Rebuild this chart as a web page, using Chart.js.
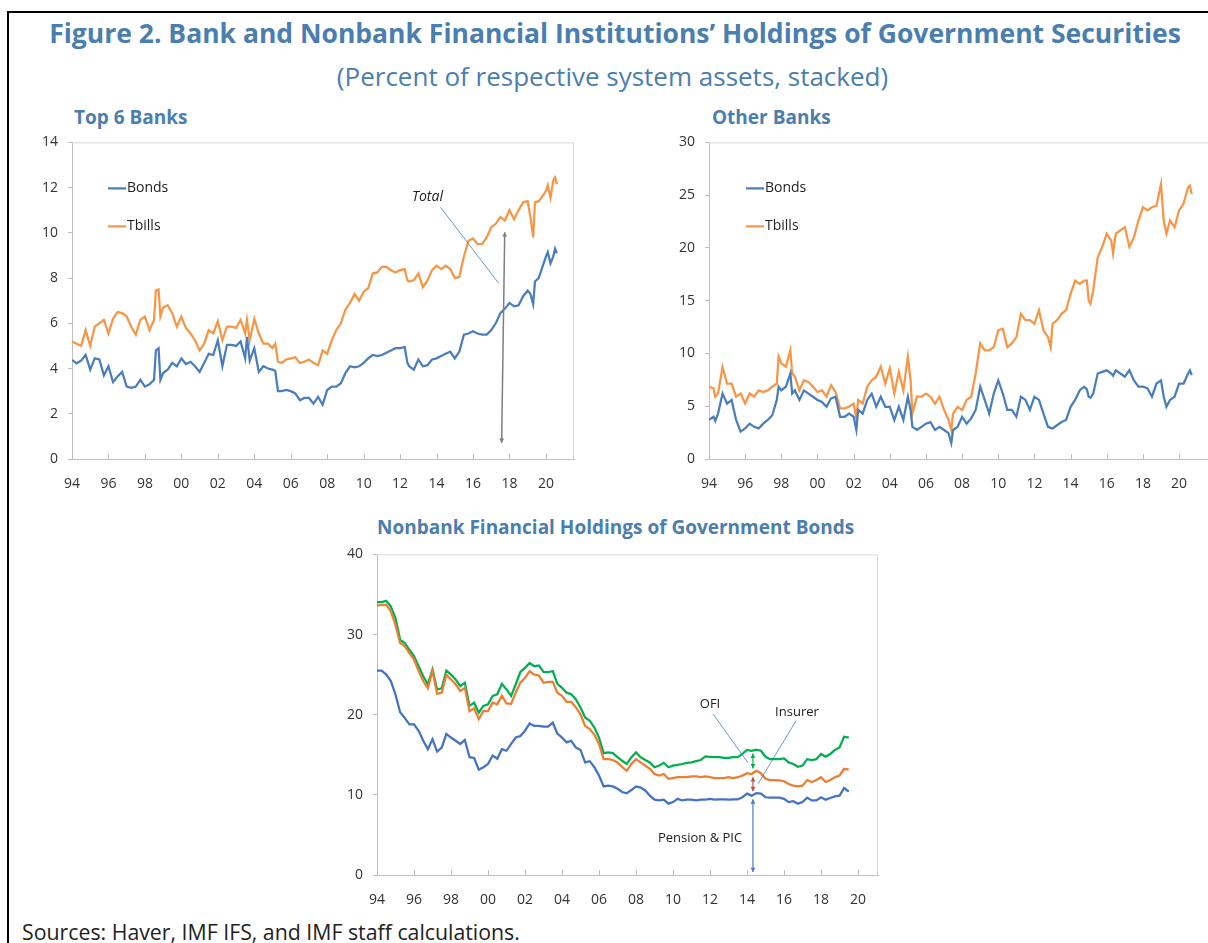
<!DOCTYPE html>
<html>
<head>
<meta charset="utf-8">
<script src="https://cdn.jsdelivr.net/npm/chart.js@4.4.1/dist/chart.umd.min.js"></script>
<style>
  body { margin: 0; width: 1208px; height: 943px; position: relative; overflow: hidden; background: #fff; font-family: 'Open Sans', sans-serif; }
  .frame { position: absolute; left: 7px; top: 11px; width: 1220px; height: 960px; border-left: 2px solid #000; border-top: 2px solid #000; }
  .title { position: absolute; left: 0; width: 1230px; top: 15px; text-align: center; color: #4A7EAF; font-weight: 700; font-size: 26.5px; white-space: nowrap; }
  .subtitle { position: absolute; left: 0; width: 1225px; top: 58px; text-align: center; color: #4A7EAF; font-size: 26px; white-space: nowrap; }
  .panel-title { position: absolute; color: #4A7EAF; font-weight: 700; font-size: 19px; white-space: nowrap; }
  .sources { position: absolute; left: 22px; top: 917px; font-size: 21.3px; color: #222; white-space: nowrap; }
  .box { position: absolute; }
</style>
</head>
<body>
<div class="frame"></div>
<div class="title">Figure 2. Bank and Nonbank Financial Institutions’ Holdings of Government Securities</div>
<div class="subtitle">(Percent of respective system assets, stacked)</div>
<div class="panel-title" style="left:74px;top:104px">Top 6 Banks</div>
<div class="panel-title" style="left:712px;top:104px">Other Banks</div>
<div class="panel-title" style="left:377px;top:514px">Nonbank Financial Holdings of Government Bonds</div>
<div class="box" style="left:20px;top:124px"><canvas id="top6" width="570" height="366"></canvas></div>
<div class="box" style="left:660px;top:124px"><canvas id="other" width="550" height="366"></canvas></div>
<div class="box" style="left:320px;top:536px"><canvas id="nonbank" width="570" height="374"></canvas></div>
<div class="sources">Sources: Haver, IMF IFS, and IMF staff calculations.</div>

<script>
// x-axis tick years (labelled as two digits)
const xTickYears = [1994, 1996, 1998, 2000, 2002, 2004, 2006, 2008, 2010, 2012, 2014, 2016, 2018, 2020];

// Top 6 banks: bonds, and bonds + tbills (stacked)
const top6Dates = [
  1994.0, 1994.25, 1994.5, 1994.75, 1995.0, 1995.25, 1995.5, 1995.75, 1996.0, 1996.25, 1996.5, 1996.75,
  1997.0, 1997.25, 1997.5, 1997.75, 1998.0, 1998.25, 1998.5, 1998.6, 1998.75, 1998.85, 1999.0, 1999.25,
  1999.5, 1999.75, 2000.0, 2000.25, 2000.5, 2000.75, 2001.0, 2001.25, 2001.5, 2001.75, 2002.0, 2002.25,
  2002.5, 2002.75, 2003.0, 2003.25, 2003.5, 2003.6, 2003.75, 2004.0, 2004.25, 2004.5, 2004.75, 2005.0,
  2005.15, 2005.3, 2005.5, 2005.75, 2006.0, 2006.25, 2006.5, 2006.75, 2007.0, 2007.25, 2007.5, 2007.75,
  2008.0, 2008.25, 2008.5, 2008.75, 2009.0, 2009.25, 2009.5, 2009.75, 2010.0, 2010.25, 2010.5, 2010.75,
  2011.0, 2011.25, 2011.5, 2011.75, 2012.0, 2012.25, 2012.4, 2012.5, 2012.75, 2013.0, 2013.25, 2013.5,
  2013.75, 2014.0, 2014.25, 2014.5, 2014.75, 2015.0, 2015.25, 2015.5, 2015.75, 2016.0, 2016.25, 2016.5,
  2016.75, 2017.0, 2017.25, 2017.5, 2017.75, 2018.0, 2018.25, 2018.5, 2018.75, 2019.0, 2019.15, 2019.3,
  2019.4, 2019.6, 2019.75, 2020.0, 2020.1, 2020.25, 2020.4, 2020.5, 2020.6
];
const top6Bonds = [
  4.38, 4.23, 4.35, 4.6, 3.95, 4.45, 4.4, 3.7, 4.1, 3.4, 3.65, 3.85,
  3.2, 3.15, 3.2, 3.5, 3.2, 3.3, 3.5, 4.8, 4.9, 3.5, 3.8, 3.95,
  4.25, 4.1, 4.45, 4.2, 4.3, 4.1, 3.85, 4.25, 4.65, 4.6, 5.25, 4.1,
  5.05, 5.05, 5.0, 5.2, 4.45, 5.4, 4.35, 4.9, 3.85, 4.1, 4.0, 3.95,
  3.9, 3.0, 3.0, 3.05, 3.0, 2.9, 2.6, 2.7, 2.7, 2.45, 2.75, 2.4,
  3.05, 3.2, 3.2, 3.35, 3.8, 4.1, 4.05, 4.1, 4.25, 4.45, 4.6, 4.55,
  4.6, 4.7, 4.8, 4.9, 4.9, 4.95, 4.25, 4.1, 3.95, 4.4, 4.1, 4.15,
  4.4, 4.45, 4.55, 4.65, 4.75, 4.45, 4.75, 5.5, 5.55, 5.65, 5.55, 5.5,
  5.5, 5.7, 6.0, 6.45, 6.65, 6.9, 6.75, 6.8, 7.2, 7.45, 7.3, 6.85,
  7.85, 8.0, 8.35, 8.95, 9.15, 8.65, 8.95, 9.3, 9.1
];
const top6Tbills = [
  5.19, 5.1, 5.0, 5.7, 5.0, 5.85, 6.0, 6.15, 5.55, 6.2, 6.5, 6.45,
  6.3, 5.85, 5.5, 6.15, 6.3, 5.7, 6.15, 7.45, 7.5, 6.3, 6.7, 6.8,
  6.45, 5.85, 6.3, 5.8, 5.55, 5.25, 4.8, 5.1, 5.7, 5.55, 6.1, 5.25,
  5.85, 5.85, 5.8, 6.15, 5.55, 6.15, 5.25, 6.2, 5.55, 5.1, 5.1, 4.9,
  5.1, 4.3, 4.25, 4.4, 4.45, 4.5, 4.25, 4.3, 4.4, 4.25, 4.15, 4.8,
  4.65, 5.25, 5.7, 6.0, 6.6, 6.9, 7.3, 7.0, 7.4, 7.55, 8.2, 8.25,
  8.5, 8.5, 8.35, 8.25, 8.35, 8.4, 7.9, 7.85, 7.9, 8.2, 7.6, 7.9,
  8.35, 8.55, 8.4, 8.55, 8.4, 8.0, 8.05, 8.95, 9.65, 9.75, 9.5, 9.5,
  9.8, 10.25, 10.4, 10.7, 10.55, 11.0, 10.6, 11.0, 11.35, 11.4, 10.7, 9.8,
  11.35, 11.4, 11.55, 11.85, 12.1, 11.55, 12.3, 12.45, 12.15
];

// Other banks: bonds, and bonds + tbills (stacked)
const otherDates = [
  1994.0, 1994.25, 1994.35, 1994.5, 1994.75, 1995.0, 1995.25, 1995.5, 1995.75, 1996.0, 1996.25, 1996.5,
  1996.75, 1997.0, 1997.25, 1997.5, 1997.75, 1997.85, 1998.0, 1998.25, 1998.5, 1998.6, 1998.75, 1999.0,
  1999.25, 1999.5, 1999.75, 2000.0, 2000.25, 2000.5, 2000.75, 2001.0, 2001.25, 2001.5, 2001.75, 2002.0,
  2002.15, 2002.25, 2002.5, 2002.75, 2003.0, 2003.25, 2003.5, 2003.75, 2004.0, 2004.25, 2004.5, 2004.75,
  2005.0, 2005.15, 2005.25, 2005.5, 2005.75, 2006.0, 2006.25, 2006.5, 2006.75, 2007.0, 2007.25, 2007.4,
  2007.5, 2007.75, 2008.0, 2008.25, 2008.5, 2008.75, 2009.0, 2009.25, 2009.5, 2009.75, 2010.0, 2010.25,
  2010.5, 2010.75, 2011.0, 2011.25, 2011.5, 2011.75, 2012.0, 2012.25, 2012.5, 2012.75, 2012.9, 2013.0,
  2013.25, 2013.5, 2013.75, 2014.0, 2014.25, 2014.5, 2014.75, 2014.9, 2015.0, 2015.1, 2015.25, 2015.5,
  2015.75, 2016.0, 2016.25, 2016.35, 2016.5, 2016.75, 2017.0, 2017.25, 2017.5, 2017.75, 2018.0, 2018.25,
  2018.5, 2018.75, 2019.0, 2019.15, 2019.3, 2019.5, 2019.75, 2020.0, 2020.25, 2020.5, 2020.6, 2020.7
];
const otherBonds = [
  3.7, 4.0, 3.6, 4.3, 6.2, 5.25, 5.6, 3.7, 2.6, 2.9, 3.35, 3.05,
  2.9, 3.35, 3.7, 4.15, 5.6, 6.85, 6.5, 6.85, 8.1, 6.2, 6.5, 5.6,
  6.5, 6.2, 5.9, 5.6, 5.4, 4.95, 5.75, 5.9, 4.0, 4.0, 4.3, 4.0,
  2.75, 4.65, 4.3, 5.6, 6.2, 4.95, 5.9, 4.95, 4.95, 3.7, 4.95, 3.7,
  5.9, 4.65, 3.05, 2.75, 3.05, 3.35, 3.5, 2.75, 3.05, 2.75, 2.45, 1.5,
  2.75, 3.05, 4.0, 3.35, 3.85, 4.65, 6.85, 5.6, 4.3, 6.2, 7.45, 6.2,
  4.65, 4.65, 4.0, 5.9, 5.6, 4.65, 5.9, 5.6, 4.3, 3.05, 2.95, 2.9,
  3.2, 3.5, 3.7, 4.95, 5.6, 6.5, 6.85, 6.6, 5.9, 5.8, 6.2, 8.1,
  8.25, 8.4, 8.1, 7.9, 8.4, 8.1, 7.8, 8.4, 7.45, 6.85, 6.85, 6.7,
  5.9, 7.15, 7.45, 5.9, 4.95, 5.6, 5.9, 7.15, 7.15, 8.1, 8.4, 7.95
];
const otherTbills = [
  6.85, 6.7, 5.9, 6.2, 8.7, 7.15, 7.15, 5.9, 6.2, 5.25, 6.2, 5.9,
  6.5, 6.35, 6.5, 6.85, 7.15, 9.7, 9.05, 8.75, 10.3, 8.1, 7.8, 6.5,
  7.45, 7.3, 6.85, 6.35, 6.5, 5.9, 7.0, 6.35, 4.8, 4.8, 4.95, 5.25,
  3.85, 5.6, 5.25, 6.85, 7.45, 7.8, 8.75, 7.15, 8.6, 6.2, 8.25, 6.5,
  9.7, 7.45, 4.3, 5.9, 5.9, 6.2, 5.9, 5.25, 5.9, 4.65, 3.7, 2.75,
  4.3, 4.95, 4.65, 5.6, 5.9, 8.1, 10.95, 10.3, 10.3, 10.6, 12.2, 12.35,
  10.6, 10.95, 11.55, 13.75, 13.15, 13.15, 12.8, 14.1, 12.2, 11.55, 10.6, 12.8,
  13.15, 13.75, 14.1, 15.65, 16.9, 16.6, 16.9, 16.9, 15.0, 14.7, 16.0, 19.1,
  20.1, 21.35, 20.7, 19.45, 21.35, 21.65, 21.95, 20.1, 21.0, 22.6, 23.85, 23.55,
  23.85, 24.0, 26.05, 22.6, 21.35, 22.6, 21.95, 23.55, 24.2, 25.75, 25.9, 25.1
];

// Nonbank holdings of government bonds, quarterly from 1994 Q1, stacked
const pensionPic = [
  25.5, 25.5, 25.0, 24.2, 22.5, 20.3, 19.6, 18.8, 18.8, 18.0, 16.75, 15.7,
  16.95, 15.4, 15.9, 17.6, 17.15, 16.75, 16.35, 16.85, 14.7, 14.6, 13.15, 13.45,
  13.85, 14.9, 14.5, 15.7, 15.5, 16.35, 17.15, 17.35, 18.0, 18.9, 18.6, 18.6,
  18.5, 18.5, 19.0, 17.65, 17.15, 16.55, 16.75, 15.9, 15.6, 14.05, 14.2, 13.45,
  12.4, 11.05, 11.15, 11.05, 10.75, 10.35, 10.2, 10.6, 11.05, 10.9, 10.55, 9.9,
  9.4, 9.3, 9.4, 8.9, 9.1, 9.5, 9.3, 9.4, 9.4, 9.3, 9.4, 9.4,
  9.5, 9.4, 9.45, 9.45, 9.4, 9.45, 9.45, 9.7, 10.15, 9.9, 10.2, 10.15,
  9.7, 9.65, 9.65, 9.65, 9.5, 9.1, 9.2, 8.9, 9.1, 9.65, 9.3, 9.3,
  9.7, 9.4, 9.6, 9.8, 9.9, 10.85, 10.4
];
const insurer = [
  33.6, 33.7, 33.7, 32.9, 31.2, 28.95, 28.55, 27.7, 26.9, 25.45, 24.2, 23.3,
  25.45, 22.6, 22.75, 25.0, 24.4, 23.8, 22.95, 23.35, 20.45, 20.8, 19.45, 20.45,
  20.45, 21.5, 21.3, 22.35, 21.4, 21.35, 22.75, 24.0, 24.6, 25.45, 25.0, 24.9,
  24.0, 24.1, 24.1, 22.75, 22.35, 21.6, 21.6, 20.9, 20.05, 18.6, 18.2, 17.5,
  16.35, 14.45, 14.45, 14.35, 14.05, 13.5, 13.0, 13.85, 14.45, 14.05, 13.65, 13.25,
  12.6, 12.4, 12.6, 12.0, 12.1, 12.2, 12.2, 12.2, 12.3, 12.3, 12.2, 12.3,
  12.2, 12.1, 12.1, 12.1, 12.2, 12.1, 12.2, 12.4, 12.7, 12.6, 13.0, 12.7,
  12.0, 11.85, 11.85, 11.8, 11.7, 11.35, 11.15, 11.05, 11.15, 11.85, 11.6, 11.85,
  12.2, 11.6, 11.85, 12.2, 12.4, 13.25, 13.15
];
const ofi = [
  34.05, 34.05, 34.2, 33.5, 32.05, 29.35, 28.95, 28.1, 27.3, 26.05, 24.8, 23.8,
  25.65, 23.15, 23.3, 25.5, 25.0, 24.4, 23.55, 24.0, 21.1, 21.5, 20.25, 21.1,
  21.3, 22.35, 22.55, 23.85, 23.15, 22.35, 23.8, 25.35, 25.85, 26.45, 26.05, 26.15,
  25.35, 25.3, 25.45, 23.85, 23.35, 22.75, 22.55, 21.9, 20.9, 19.65, 19.25, 18.4,
  17.15, 15.2, 15.3, 15.2, 14.7, 14.25, 13.85, 14.7, 15.3, 14.7, 14.35, 14.05,
  13.45, 13.65, 14.0, 13.45, 13.65, 13.75, 13.85, 14.0, 14.05, 14.2, 14.35, 14.8,
  14.75, 14.7, 14.7, 14.6, 14.6, 14.7, 14.7, 15.1, 15.6, 15.5, 15.65, 15.5,
  14.75, 14.45, 14.45, 14.45, 14.55, 14.05, 13.85, 13.5, 13.65, 14.45, 14.35, 14.45,
  15.1, 14.75, 15.1, 15.6, 15.9, 17.25, 17.15
];
const nonbankDates = pensionPic.map((_, i) => 1994 + i / 4);

const FONT = "'Open Sans', sans-serif";
const TICK_COLOR = '#333';
const AXIS_COLOR = '#BFBFBF';

const pts = (xs, ys) => xs.map((x, i) => ({ x: x, y: ys[i] }));

// plot outline plus inward x ticks, like the Excel original
const plotFrame = {
  id: 'plotFrame',
  afterDraw(chart) {
    const { ctx, chartArea: a } = chart;
    const xs = chart.scales.x;
    ctx.save();
    ctx.strokeStyle = '#D9D9D9';
    ctx.lineWidth = 1;
    ctx.beginPath();
    ctx.moveTo(a.left, a.top + 0.5);
    ctx.lineTo(a.right - 0.5, a.top + 0.5);
    ctx.lineTo(a.right - 0.5, a.bottom);
    ctx.stroke();
    ctx.strokeStyle = AXIS_COLOR;
    ctx.beginPath();
    xs.ticks.forEach(t => {
      const px = Math.round(xs.getPixelForValue(t.value)) + 0.5;
      ctx.moveTo(px, a.bottom);
      ctx.lineTo(px, a.bottom - 5);
    });
    ctx.stroke();
    ctx.restore();
  }
};

const insideLegend = {
  id: 'insideLegend',
  afterDraw(chart, args, opts) {
    if (!opts || opts.x === undefined) return;
    const { ctx, chartArea: a } = chart;
    ctx.save();
    ctx.font = '14px ' + FONT;
    ctx.textBaseline = 'middle';
    chart.data.datasets.forEach((ds, i) => {
      const y = a.top + opts.y + i * opts.gap;
      const x = a.left + opts.x;
      ctx.strokeStyle = ds.borderColor;
      ctx.lineWidth = 2.25;
      ctx.beginPath();
      ctx.moveTo(x, y);
      ctx.lineTo(x + 18, y);
      ctx.stroke();
      ctx.fillStyle = '#222';
      ctx.fillText(ds.label, x + 19, y);
    });
    ctx.restore();
  }
};

function arrowHead(ctx, x1, y1, x2, y2, size) {
  const ang = Math.atan2(y2 - y1, x2 - x1);
  ctx.beginPath();
  ctx.moveTo(x2, y2);
  ctx.lineTo(x2 - size * Math.cos(ang - 0.5), y2 - size * Math.sin(ang - 0.5));
  ctx.lineTo(x2 - size * Math.cos(ang + 0.5), y2 - size * Math.sin(ang + 0.5));
  ctx.closePath();
  ctx.fill();
}

// notes placed in data units
const notes = {
  id: 'notes',
  afterDatasetsDraw(chart, args, opts) {
    if (!opts || !opts.items) return;
    const { ctx } = chart;
    const X = v => chart.scales.x.getPixelForValue(v);
    const Y = v => chart.scales.y.getPixelForValue(v);
    ctx.save();
    opts.items.forEach(it => {
      if (it.type === 'text') {
        ctx.font = it.font;
        ctx.fillStyle = '#222';
        ctx.textAlign = 'center';
        ctx.textBaseline = 'middle';
        ctx.fillText(it.text, X(it.x), Y(it.y));
      } else {
        const x1 = X(it.x1), y1 = Y(it.y1), x2 = X(it.x2), y2 = Y(it.y2);
        ctx.strokeStyle = it.color;
        ctx.fillStyle = it.color;
        ctx.lineWidth = it.width;
        ctx.beginPath();
        ctx.moveTo(x1, y1);
        ctx.lineTo(x2, y2);
        ctx.stroke();
        if (it.type === 'arrow') {
          arrowHead(ctx, x1, y1, x2, y2, 5);
          arrowHead(ctx, x2, y2, x1, y1, 5);
        }
      }
    });
    ctx.restore();
  }
};

function makeChart(id, datasets, cfg) {
  return new Chart(document.getElementById(id), {
    type: 'line',
    data: { datasets: datasets.map(d => ({
      label: d.label,
      data: d.data,
      borderColor: d.color,
      borderWidth: 2.25,
      pointRadius: 0,
      tension: 0,
      fill: false
    })) },
    options: {
      responsive: false,
      animation: false,
      layout: { padding: cfg.padding },
      plugins: {
        legend: { display: false },
        tooltip: { enabled: false },
        insideLegend: cfg.legend || {},
        notes: { items: cfg.notes || [] }
      },
      scales: {
        x: {
          type: 'linear',
          min: 1994,
          max: cfg.xMax,
          afterBuildTicks: s => { s.ticks = xTickYears.map(v => ({ value: v })); },
          afterFit: s => { s.height = cfg.xHeight; },
          border: { color: AXIS_COLOR, width: 1 },
          grid: { drawOnChartArea: false, drawTicks: false, color: AXIS_COLOR },
          ticks: {
            autoSkip: false, maxRotation: 0, padding: cfg.xPad,
            color: TICK_COLOR, font: { family: FONT, size: 14 },
            callback: v => String(v).slice(2)
          }
        },
        y: {
          min: 0,
          max: cfg.yMax,
          afterFit: s => { s.width = cfg.yWidth; },
          border: { color: AXIS_COLOR, width: 1 },
          grid: { drawOnChartArea: false, drawTicks: true, tickLength: 4, color: AXIS_COLOR },
          ticks: { stepSize: cfg.yStep, padding: 10, color: TICK_COLOR, font: { family: FONT, size: 14 } }
        }
      }
    },
    plugins: [plotFrame, insideLegend, notes]
  });
}

makeChart('top6', [
  { label: 'Bonds', data: pts(top6Dates, top6Bonds), color: '#4A7EBB' },
  { label: 'Tbills', data: pts(top6Dates, top6Tbills), color: '#F79646' }
], {
  padding: { top: 12, right: 16, left: 0, bottom: 0 },
  xMax: 2021.54, xHeight: 31, xPad: 17, yMax: 14, yStep: 2, yWidth: 52,
  legend: { x: 36, y: 46, gap: 38 },
  notes: [
    { type: 'text', text: 'Total', x: 2013.5, y: 11.57, font: 'italic 14px ' + FONT },
    { type: 'line', x1: 2014.22, y1: 11.13, x2: 2017.41, y2: 7.77, color: '#4A7EBB', width: 0.8 },
    { type: 'arrow', x1: 2017.74, y1: 10.03, x2: 2017.57, y2: 0.71, color: '#7F7F7F', width: 1.5 }
  ]
});

makeChart('other', [
  { label: 'Bonds', data: pts(otherDates, otherBonds), color: '#4A7EBB' },
  { label: 'Tbills', data: pts(otherDates, otherTbills), color: '#F79646' }
], {
  padding: { top: 12, right: 0, left: 0, bottom: 0 },
  xMax: 2021.71, xHeight: 31, xPad: 17, yMax: 30, yStep: 5, yWidth: 49,
  legend: { x: 37, y: 46, gap: 38 }
});

makeChart('nonbank', [
  { label: 'Pension & PIC', data: pts(nonbankDates, pensionPic), color: '#4472C4' },
  { label: 'Insurer', data: pts(nonbankDates, insurer), color: '#ED7D31' },
  { label: 'OFI', data: pts(nonbankDates, ofi), color: '#00B050' }
], {
  padding: { top: 13, right: 12, left: 0, bottom: 0 },
  xMax: 2021.08, xHeight: 35, xPad: 17, yMax: 40, yStep: 10, yWidth: 57,
  notes: [
    { type: 'text', text: 'OFI', x: 2012.0, y: 21.24, font: '13px ' + FONT },
    { type: 'line', x1: 2012.16, y1: 20.1, x2: 2014.05, y2: 14.0, color: '#4A7EBB', width: 0.8 },
    { type: 'text', text: 'Insurer', x: 2016.7, y: 20.25, font: '13px ' + FONT },
    { type: 'line', x1: 2016.65, y1: 19.25, x2: 2014.6, y2: 11.4, color: '#4A7EBB', width: 0.8 },
    { type: 'arrow', x1: 2014.32, y1: 15.15, x2: 2014.32, y2: 13.3, color: '#00B050', width: 1.2 },
    { type: 'arrow', x1: 2014.32, y1: 12.2, x2: 2014.32, y2: 10.45, color: '#C0504D', width: 1.2 },
    { type: 'text', text: 'Pension & PIC', x: 2011.46, y: 4.6, font: '13px ' + FONT },
    { type: 'arrow', x1: 2014.32, y1: 9.45, x2: 2014.32, y2: 0.37, color: '#4A7EBB', width: 1.2 }
  ]
});
</script>
</body>
</html>
